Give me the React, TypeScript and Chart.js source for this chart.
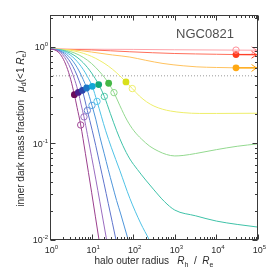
import React, { useEffect, useRef } from "react";
import { Chart, registerables } from "chart.js";

Chart.register(...registerables);

// ---------- text / ticks ----------
const galaxyName = "NGC0821";
const xTickValues = [1, 10, 100, 1000, 10000, 100000];
const xTickExponents = ["0", "1", "2", "3", "4", "5"];
const yTickValues = [0.01, 0.1, 1];
const yTickExponents = ["-2", "-1", "0"];
const halfLevel = 0.5;
const xMin = 1;
const xMax = 100000;
const yMin = 0.01;
const yMax = 2.13;

// ---------- curves (halo outer radius, inner dark mass fraction) ----------
const c1X = [1, 1.26, 1.585, 2.0, 2.51, 3.16, 3.85, 4.47, 5.47, 7.08, 10, 15.1, 20];
const c1Y = [0.945, 0.933, 0.878, 0.77, 0.622, 0.455, 0.319, 0.236, 0.155, 0.079, 0.0312, 0.01, 0.0047];

const c2X = [1, 1.26, 1.585, 2.0, 2.51, 3.16, 3.98, 4.8, 5.62, 6.56, 7.94, 10, 12.6, 15.8, 23, 28];
const c2Y = [0.945, 0.937, 0.901, 0.828, 0.72, 0.587, 0.446, 0.337, 0.25, 0.188, 0.123, 0.0726, 0.0427, 0.0248, 0.01, 0.0063];

const c3X = [1, 1.585, 2.0, 2.51, 3.16, 3.98, 5.01, 6.0, 7.9, 10.4, 12.6, 15.8, 20, 25.1, 31.6, 38.6, 50];
const c3Y = [0.945, 0.914, 0.863, 0.784, 0.682, 0.565, 0.444, 0.354, 0.219, 0.135, 0.0946, 0.0604, 0.0381, 0.024, 0.0151, 0.01, 0.0059];

const c4X = [1, 1.585, 2.51, 3.16, 3.98, 5.01, 6.31, 7.6, 10.2, 12.6, 15.8, 20, 25.1, 31.6, 39.8, 50.1, 76, 100];
const c4Y = [0.945, 0.924, 0.831, 0.755, 0.663, 0.561, 0.456, 0.374, 0.247, 0.178, 0.117, 0.079, 0.0537, 0.037, 0.0257, 0.0186, 0.01, 0.0068];

const c5X = [1, 1.585, 2.51, 3.98, 6.31, 7.94, 10.4, 13.5, 21.8, 30, 48, 83, 150, 244, 320];
const c5Y = [0.945, 0.931, 0.867, 0.745, 0.581, 0.491, 0.389, 0.272, 0.135, 0.09, 0.052, 0.027, 0.015, 0.01, 0.0078];

const c6X = [1, 1.585, 2.51, 3.98, 6.31, 10, 14.8, 20.2, 28.2, 40, 56, 83, 126, 200, 316, 562, 1000, 3162, 10000, 31623, 100000];
const c6Y = [0.945, 0.935, 0.892, 0.806, 0.682, 0.535, 0.406, 0.306, 0.204, 0.135, 0.0955, 0.069, 0.0537, 0.0417, 0.033, 0.025, 0.0204, 0.0178, 0.0157, 0.0145, 0.0136];

const c7X = [1, 1.585, 2.51, 3.98, 6.31, 10, 15.8, 25.7, 34.5, 48, 70.8, 104, 158, 251, 398, 631, 1000, 1585, 3162, 10000, 31623, 100000];
const c7Y = [0.945, 0.939, 0.912, 0.858, 0.776, 0.67, 0.548, 0.419, 0.335, 0.245, 0.174, 0.135, 0.111, 0.0933, 0.0832, 0.0767, 0.0741, 0.075, 0.0785, 0.0861, 0.0933, 0.0989];

const c8X = [1, 2.51, 3.98, 6.31, 10, 15.8, 25.1, 39.8, 67, 95, 141, 210, 316, 501, 794, 1585, 3981, 10000, 100000];
const c8Y = [0.945, 0.929, 0.9, 0.855, 0.794, 0.718, 0.632, 0.538, 0.432, 0.369, 0.309, 0.269, 0.243, 0.226, 0.216, 0.208, 0.204, 0.204, 0.205];

const c9X = [1, 3.16, 10, 31.6, 83, 200, 520, 1585, 3400, 10000, 29600, 100000];
const c9Y = [0.945, 0.933, 0.881, 0.822, 0.782, 0.724, 0.671, 0.635, 0.619, 0.61, 0.605, 0.603];

const c10X = [1, 10, 83, 1000, 10000, 29600, 100000];
const c10Y = [0.945, 0.927, 0.887, 0.851, 0.836, 0.83, 0.826];

const c11X = [1, 100, 1000, 29600, 100000];
const c11Y = [0.945, 0.938, 0.93, 0.923, 0.92];

const curveXs = [c1X, c2X, c3X, c4X, c5X, c6X, c7X, c8X, c9X, c10X, c11X];
const curveYs = [c1Y, c2Y, c3Y, c4Y, c5Y, c6Y, c7Y, c8Y, c9Y, c10Y, c11Y];
const curveColors = [
  "#9b3f8e", "#9a6cc0", "#5f74cc", "#4e95da", "#4fc2e6", "#3fc2a8",
  "#93d98f", "#eeee6a", "#ffc25e", "#ff6e5a", "#ffa3aa",
];
const arrowCurves = [8, 9, 10];

// ---------- markers ----------
const dotX = [3.85, 4.8, 6.0, 7.6, 10.4, 14.8, 25.7, 67, 29600, 29600];
const dotY = [0.319, 0.337, 0.354, 0.374, 0.389, 0.406, 0.419, 0.432, 0.605, 0.83];
const dotColors = [
  "#6b0c5c", "#4a1e8c", "#2b44aa", "#1c78c8", "#12a6d6", "#12a878",
  "#46b846", "#d9e01a", "#ffa812", "#ff3b1c",
];
const openX = [5.47, 6.56, 7.9, 10.2, 13.5, 20.2, 34.5, 95, 29600];
const openY = [0.155, 0.188, 0.219, 0.247, 0.272, 0.306, 0.335, 0.369, 0.923];
const openColors = [
  "#a24a98", "#9a70c0", "#6a80d0", "#58a0e0", "#58c6ea", "#4ec6a8",
  "#8ed88a", "#eeee6a", "#ff8f98",
];
const tailIndex = [9, 8];
const tailColors = ["#ff4028", "#ffa812"];

const FONT = "'Liberation Sans', Arial, Helvetica, sans-serif";
type Seg = { t: string; font: string; dy: number };

function drawRich(ctx: CanvasRenderingContext2D, segs: Seg[], x: number, y: number, align: "center" | "right" | "left") {
  const widths = segs.map((s) => {
    ctx.font = s.font;
    return ctx.measureText(s.t).width;
  });
  const total = widths.reduce((a, b) => a + b, 0);
  let cx = align === "center" ? x - total / 2 : align === "right" ? x - total : x;
  segs.forEach((s, i) => {
    ctx.font = s.font;
    ctx.fillText(s.t, cx, y + s.dy);
    cx += widths[i];
  });
}

const decorPlugin = {
  id: "decor",
  afterDatasetsDraw(chart: any) {
    const { ctx, chartArea: a, scales } = chart;
    const xs = scales.x;
    const ys = scales.y;
    ctx.save();

    // arrows at the end of the flat curves
    arrowCurves.forEach((ci) => {
      const xsArr = curveXs[ci];
      const ysArr = curveYs[ci];
      const px = xs.getPixelForValue(xsArr[xsArr.length - 1]) - 1.5;
      const py = ys.getPixelForValue(ysArr[ysArr.length - 1]);
      ctx.strokeStyle = ci === 10 ? "#ff7f8a" : ci === 9 ? "#ff4028" : "#ffa812";
      ctx.lineWidth = 1;
      ctx.beginPath();
      ctx.moveTo(px - 5, py - 3.5);
      ctx.lineTo(px, py);
      ctx.lineTo(px - 5, py + 3.5);
      ctx.stroke();
    });

    // frame
    ctx.strokeStyle = "#3a3a3a";
    ctx.lineWidth = 1;
    const L = Math.round(a.left) + 0.5;
    const R = Math.round(a.right) - 0.5;
    const T = Math.round(a.top) + 0.5;
    const B = Math.round(a.bottom) - 0.5;
    ctx.strokeRect(L, T, R - L, B - T);

    // ticks
    ctx.beginPath();
    for (let d = xMin; d <= xMax; d *= 10) {
      for (let m = 1; m <= 9; m++) {
        const v = d * m;
        if (v > xMax * 1.0001) break;
        const p = Math.round(xs.getPixelForValue(v)) + 0.5;
        const len = m === 1 ? 5 : 2.5;
        ctx.moveTo(p, B);
        ctx.lineTo(p, B - len);
        ctx.moveTo(p, T);
        ctx.lineTo(p, T + len);
      }
    }
    for (let d = yMin; d <= yMax; d *= 10) {
      for (let m = 1; m <= 9; m++) {
        const v = d * m;
        if (v > yMax) break;
        const p = Math.round(ys.getPixelForValue(v)) + 0.5;
        const len = m === 1 ? 5 : 2.5;
        ctx.moveTo(L, p);
        ctx.lineTo(L + len, p);
        ctx.moveTo(R, p);
        ctx.lineTo(R - len, p);
      }
    }
    ctx.stroke();

    // tick labels
    ctx.fillStyle = "#2a2a2a";
    ctx.textBaseline = "alphabetic";
    xTickValues.forEach((v, i) => {
      const p = xs.getPixelForValue(v);
      drawRich(
        ctx,
        [
          { t: "10", font: `9px ${FONT}`, dy: 0 },
          { t: xTickExponents[i], font: `6px ${FONT}`, dy: -4 },
        ],
        p + 1.5,
        a.bottom + 12.5,
        "center"
      );
    });
    yTickValues.forEach((v, i) => {
      const p = ys.getPixelForValue(v);
      drawRich(
        ctx,
        [
          { t: "10", font: `9px ${FONT}`, dy: 0 },
          { t: yTickExponents[i], font: `6px ${FONT}`, dy: -4 },
        ],
        a.left - 2,
        p + 3.3,
        "right"
      );
    });

    // axis titles
    drawRich(
      ctx,
      [
        { t: "halo outer radius   ", font: `10px ${FONT}`, dy: 0 },
        { t: "R", font: `italic 10px ${FONT}`, dy: 0 },
        { t: "h", font: `7px ${FONT}`, dy: 2.5 },
        { t: "  /  ", font: `10px ${FONT}`, dy: 0 },
        { t: "R", font: `italic 10px ${FONT}`, dy: 0 },
        { t: "e", font: `7px ${FONT}`, dy: 2.5 },
      ],
      (a.left + a.right) / 2,
      a.bottom + 24,
      "center"
    );
    ctx.save();
    ctx.translate(23.5, (a.top + a.bottom) / 2 + 1);
    ctx.rotate(-Math.PI / 2);
    drawRich(
      ctx,
      [
        { t: "inner dark mass fraction   ", font: `10px ${FONT}`, dy: 0 },
        { t: "μ", font: `italic 10px ${FONT}`, dy: 0 },
        { t: "d", font: `7px ${FONT}`, dy: 2.5 },
        { t: "(<1 ", font: `10px ${FONT}`, dy: 0 },
        { t: "R", font: `italic 10px ${FONT}`, dy: 0 },
        { t: "e", font: `7px ${FONT}`, dy: 2.5 },
        { t: ")", font: `10px ${FONT}`, dy: 0 },
      ],
      0,
      0,
      "center"
    );
    ctx.restore();

    // galaxy name
    ctx.fillStyle = "#505050";
    ctx.font = `13px ${FONT}`;
    ctx.textAlign = "center";
    ctx.fillText(galaxyName, a.right - 53, a.top + 22.7);

    ctx.restore();
  },
};

export default function App() {
  const ref = useRef<HTMLCanvasElement | null>(null);
  useEffect(() => {
    const canvas = ref.current;
    if (!canvas) return;
    const datasets: any[] = [];
    datasets.push({
      data: openX.map((x, i) => ({ x, y: openY[i] })),
      showLine: false,
      pointRadius: 3.2,
      pointBackgroundColor: "rgba(0,0,0,0)",
      pointBorderColor: openColors,
      pointBorderWidth: 1,
      order: 0,
    });
    datasets.push({
      data: dotX.map((x, i) => ({ x, y: dotY[i] })),
      showLine: false,
      pointRadius: 3.4,
      pointBackgroundColor: dotColors,
      pointBorderColor: dotColors,
      pointBorderWidth: 0,
      order: 0,
    });
    tailIndex.forEach((di, k) => {
      datasets.push({
        data: [
          { x: dotX[di], y: dotY[di] },
          { x: xMax, y: dotY[di] },
        ],
        showLine: true,
        pointRadius: 0,
        borderColor: tailColors[k],
        borderWidth: 1.3,
        order: 1,
      });
    });
    curveXs.forEach((cx, i) => {
      datasets.push({
        data: cx.map((x, j) => ({ x, y: curveYs[i][j] })),
        showLine: true,
        pointRadius: 0,
        borderColor: curveColors[i],
        borderWidth: 1,
        cubicInterpolationMode: "monotone",
        order: 2,
      });
    });
    datasets.push({
      data: [
        { x: xMin, y: halfLevel },
        { x: xMax, y: halfLevel },
      ],
      showLine: true,
      pointRadius: 0,
      borderColor: "#9a9a9a",
      borderDash: [1, 2],
      borderWidth: 1,
      order: 3,
    });

    const chart = new Chart(canvas, {
      type: "scatter",
      data: { datasets },
      options: {
        animation: false,
        responsive: false,
        devicePixelRatio: 1,
        layout: { padding: { left: 50, right: 15, top: 15, bottom: 33 } },
        plugins: { legend: { display: false }, tooltip: { enabled: false } },
        scales: {
          x: { type: "logarithmic", min: xMin, max: xMax, display: false },
          y: { type: "logarithmic", min: yMin, max: yMax, display: false },
        },
      },
      plugins: [decorPlugin],
    });
    return () => chart.destroy();
  }, []);
  return (
    <div style={{ position: "fixed", left: 0, top: 0, width: 273, height: 273, background: "#fff" }}>
      <canvas ref={ref} width={273} height={273} style={{ display: "block" }} />
    </div>
  );
}
